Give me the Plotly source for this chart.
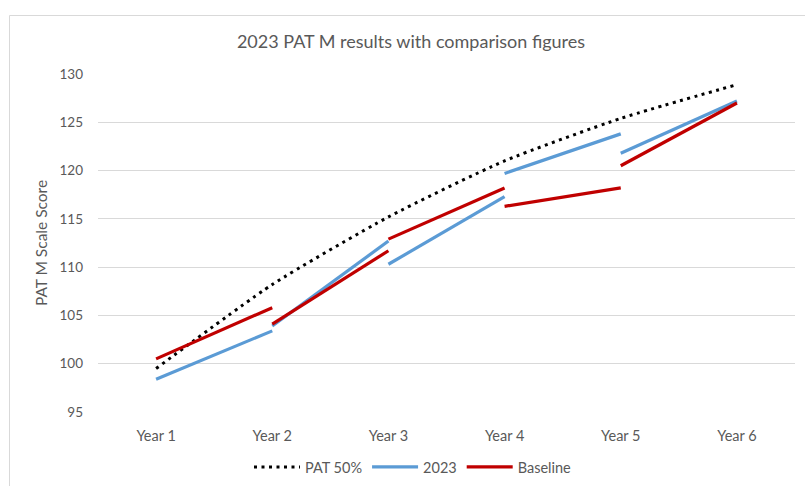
import plotly.graph_objects as go

# ---- data ----
years = ["Year 1", "Year 2", "Year 3", "Year 4", "Year 5", "Year 6"]
pat50 = [99.5, 108.2, 115.2, 121.0, 125.4, 128.9]
y2023_start = [98.4, 103.9, 110.3, 119.7, 121.8]
y2023_end = [103.4, 112.7, 117.3, 123.8, 127.2]
base_start = [100.5, 104.1, 112.9, 116.3, 120.5]
base_end = [105.8, 111.7, 118.2, 118.2, 127.0]
y_ticks = [95, 100, 105, 110, 115, 120, 125, 130]


def segments(starts, ends):
    xs, ys = [], []
    for i, (a, b) in enumerate(zip(starts, ends)):
        xs += [years[i], years[i + 1], None]
        ys += [a, b, None]
    return xs, ys


FONT = "Lato, Calibri, Arial, sans-serif"
GREY = "#595959"

W, H = 805, 486
ML, MR, MT, MB = 98, 10, 74, 74
pw = W - ML - MR
ph = H - MT - MB


def px_to_paper_x(px):
    return (px - ML) / pw


def px_to_paper_y(py):
    return (H - MB - py) / ph


fig = go.Figure()

fig.add_trace(go.Scatter(
    x=years, y=pat50, name="PAT 50%", mode="lines",
    line=dict(color="#000000", width=3, dash="3px,4.5px", shape="spline", smoothing=0.6),
))

x23, v23 = segments(y2023_start, y2023_end)
fig.add_trace(go.Scatter(
    x=x23, y=v23, name="2023", mode="lines", connectgaps=False,
    line=dict(color="#5B9BD5", width=3.2),
))

xb, vb = segments(base_start, base_end)
fig.add_trace(go.Scatter(
    x=xb, y=vb, name="Baseline", mode="lines", connectgaps=False,
    line=dict(color="#C00000", width=3.2),
))

fig.update_layout(
    width=W, height=H,
    margin=dict(l=ML, r=MR, t=MT, b=MB, autoexpand=False),
    paper_bgcolor="white", plot_bgcolor="white",
    font=dict(family=FONT, color=GREY, size=14),
    title=dict(
        text="2023 PAT M results with comparison figures",
        x=px_to_paper_x(411), xref="paper", xanchor="center",
        y=1 - 42 / H, yanchor="middle",
        font=dict(family=FONT, size=18, color=GREY),
    ),
    xaxis=dict(
        type="category", categoryorder="array", categoryarray=years,
        range=[-0.5, 5.5], showgrid=False, zeroline=False,
        showline=False, ticks="", ticklabelstandoff=13, automargin=False,
        tickfont=dict(size=14.5, color=GREY),
    ),
    yaxis=dict(
        range=[95, 130], tickvals=y_ticks, showgrid=True,
        gridcolor="#D9D9D9", gridwidth=1, zeroline=False, showline=False,
        ticks="", ticklabelstandoff=14, automargin=False,
        tickfont=dict(size=13.5, color=GREY),
        title=dict(text="PAT M Scale Score", standoff=8,
                   font=dict(size=15.5, color=GREY)),
    ),
    legend=dict(
        orientation="h", x=px_to_paper_x(413), xanchor="center",
        y=px_to_paper_y(467), yanchor="middle", itemwidth=46,
        font=dict(size=14.5, color=GREY), bgcolor="rgba(0,0,0,0)",
    ),
    shapes=[dict(
        type="rect", xref="paper", yref="paper",
        x0=px_to_paper_x(9.5), x1=px_to_paper_x(820),
        y0=px_to_paper_y(500), y1=px_to_paper_y(15.5),
        line=dict(color="#D9D9D9", width=1), fillcolor="rgba(0,0,0,0)",
        layer="below",
    )],
)

fig.write_html(
    "out.html",
    config={"displayModeBar": False},
    post_script="document.body.style.margin='0';document.body.style.padding='0';",
)
